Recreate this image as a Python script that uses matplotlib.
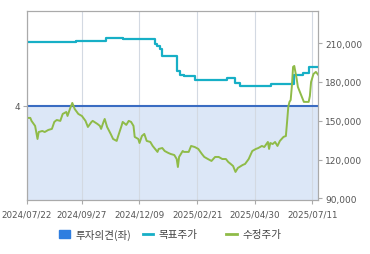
import matplotlib
matplotlib.use("Agg")
import matplotlib.pyplot as plt
from matplotlib.patches import Patch
from matplotlib.lines import Line2D
from matplotlib.ticker import FuncFormatter

# x axis: trading-day index, labels at these positions
tick_pos = [0, 46, 94, 142, 190, 238]
tick_labels = ['2024/07/22', '2024/09/27', '2024/12/09', '2025/02/21', '2025/04/30', '2025/07/11']
n_days = 243

# 투자의견 (left axis)
opinion = 4

# 목표주가 (step line): day index where it changes, value
target_idx = [0, 41, 66, 80, 107, 109, 111, 113, 125, 128, 131, 140, 167, 174, 178, 204, 223, 230, 235, 243]
target_val = [211000, 211800, 214000, 213000, 209500, 208100, 205600, 199800, 188800, 185700,
              184700, 181400, 182900, 179300, 177200, 178500, 185100, 187000, 191600, 191600]

# 수정주가 (close price)
price_idx = [0, 3, 4, 7, 9, 10, 13, 15, 18, 21, 23, 25, 28, 30, 33, 34, 36, 38, 40, 43,
             46, 49, 51, 54, 55, 59, 61, 62, 64, 65, 67, 70, 72, 75, 76, 79, 80, 83, 85, 87,
             89, 90, 93, 94, 96, 98, 100, 103, 105, 109, 110, 113, 115, 118, 120, 123, 125, 126, 127, 130,
             131, 135, 137, 140, 143, 146, 148, 151, 154, 157, 160, 163, 166, 168, 170, 172, 174, 176, 180, 182,
             185, 188, 191, 193, 196, 198, 201, 202, 203, 205, 207, 209, 211, 214, 216, 217, 218, 219, 220, 221,
             222, 223, 225, 226, 229, 231, 235, 236, 237, 239, 241, 243]
price_val = [152200, 152200, 149900, 146000, 135900, 141300, 142100, 141300, 142900, 143700,
             149100, 150600, 149900, 155300, 156800, 153700, 159100, 163800, 159100, 155300,
             153700, 149900, 145200, 149100, 149900, 147500, 146000, 143700, 149100, 151400,
             145200, 139800, 135900, 134400, 137500, 146000, 149100, 146800, 149900, 149100,
             146000, 137500, 135900, 132800, 138200, 139800, 134400, 133600, 130500, 125900,
             128200, 128900, 126600, 125100, 124300, 123500, 120400, 114200, 122000, 126600,
             125900, 125900, 130500, 129700, 128200, 124300, 122000, 120400, 118900, 122000,
             122000, 120400, 120400, 118100, 116600, 115000, 110400, 113500, 115800, 116600,
             120400, 126600, 128200, 128900, 130500, 129700, 133600, 128200, 132800, 132000,
             133600, 130500, 134400, 137500, 138200, 149100, 160700, 164600, 166100, 176900,
             191700, 192400, 182400, 176200, 169200, 164600, 164600, 169200, 180000, 186200,
             187800, 185500]

blue = '#3a6cc2'
fill_blue = '#dce7f7'
teal = '#17afc6'
green = '#8fbb48'
grey = '#555555'

fig = plt.figure(figsize=(3.7, 2.55), dpi=100)
ax = fig.add_axes([0.0722, 0.2118, 0.788, 0.740])
ax2 = ax.twinx()

# opinion area + line
ax.fill_between([0, n_days], [opinion, opinion], 0, color=fill_blue, lw=0, zorder=0.5)
for p in tick_pos:
    ax.axvline(p, color='#d3d9e2', lw=0.8, zorder=1)
ax.plot([0, n_days], [opinion, opinion], color=blue, lw=1.5, zorder=2)
ax.set_ylim(0, 8)
ax.set_yticks([4])
ax.set_xlim(0, n_days)
ax.set_xticks(tick_pos)
ax.set_xticklabels(tick_labels)

# prices
ax2.plot(target_idx, target_val, drawstyle='steps-post', color=teal, lw=1.6)
ax2.plot(price_idx, price_val, color=green, lw=1.4)
ax2.set_ylim(88700, 234700)
ax2.set_yticks([90000, 120000, 150000, 180000, 210000])
ax2.yaxis.set_major_formatter(FuncFormatter(lambda v, p: f'{int(v):,}'))

for a in (ax, ax2):
    for s in a.spines.values():
        s.set_color('#aaaaaa')
        s.set_linewidth(0.8)
    a.tick_params(labelsize=6.5, colors='#aaaaaa', labelcolor=grey, length=3, width=0.8, pad=2)
ax.tick_params(axis='x', labelsize=6.3, pad=4)

# legend
font = ['Noto Sans CJK KR', 'DejaVu Sans']
items = [
    (Patch(color='#2f7ee0'), '투자의견(좌)', 0.160),
    (Line2D([], [], color=teal, lw=2), '목표주가', 0.386),
    (Line2D([], [], color=green, lw=2), '수정주가', 0.612),
]
for h, lab, x in items:
    leg = fig.legend([h], [lab], loc='center left', bbox_to_anchor=(x, 0.077),
                     frameon=False, handlelength=1.0, handleheight=0.8, handletextpad=0.5,
                     borderpad=0, borderaxespad=0,
                     prop={'family': font, 'size': 7.6})
    for t in leg.get_texts():
        t.set_color('#444444')

fig.savefig('out.png', dpi=100)
